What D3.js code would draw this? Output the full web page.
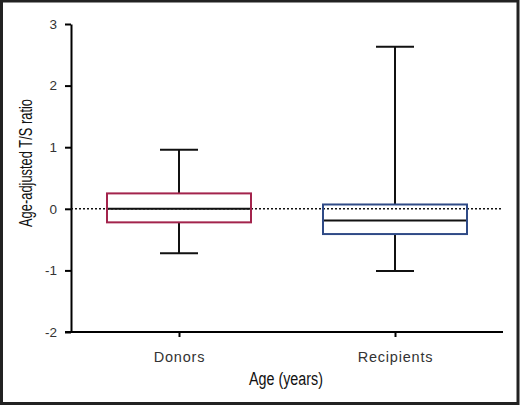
<!doctype html>
<html lang="en">
<head>
<meta charset="utf-8">
<title>Age-adjusted T/S ratio</title>
<script src="https://d3js.org/d3.v7.min.js"></script>
<style>
    html, body { margin: 0; padding: 0; background: #fff; }
    svg { display: block; }
</style>
</head>
<body>
<script>
    // data
    const groups = ["Donors", "Recipients"]
    const whiskerLow = [-0.72, -1.01]
    const boxLow = [-0.22, -0.41]
    const medians = [0.0, -0.19]
    const boxHigh = [0.25, 0.07]
    const whiskerHigh = [0.96, 2.63]
    const boxColors = ["#a3244c", "#2f4a86"]
    const yTicks = [-2, -1, 0, 1, 2, 3]

    const width = 520, height = 405
    const margin = { top: 24, right: 17, bottom: 73, left: 71 }

    const svg = d3.select("body").append("svg")
        .attr("width", width)
        .attr("height", height)

    // outer frame
    svg.append("rect")
        .attr("x", 1.5).attr("y", 1)
        .attr("width", width - 3.5).attr("height", height - 2.5)
        .attr("fill", "none")
        .attr("stroke", "#222")
        .attr("stroke-width", 3)

    let x = d3.scalePoint()
        .domain(groups)
        .range([margin.left, width - margin.right])
        .padding(0.5)

    let y = d3.scaleLinear()
        .domain([-2, 3])
        .range([height - margin.bottom, margin.top])

    const tickFont = "'Liberation Sans', Arial, sans-serif"

    // y axis
    const yAxis = svg.append("g")
        .attr("transform", `translate(${margin.left},0)`)
        .call(d3.axisLeft(y).tickValues(yTicks).tickFormat(d => String(d)).tickSize(6).tickPadding(8).tickSizeOuter(0))
    yAxis.selectAll("text")
        .attr("font-family", tickFont)
        .attr("font-size", 13.5)
        .attr("fill", "#333")
    yAxis.select(".domain").attr("stroke-width", 2)
    yAxis.selectAll(".tick line").attr("stroke-width", 2)

    // x axis
    const xAxis = svg.append("g")
        .attr("transform", `translate(0,${height - margin.bottom})`)
        .call(d3.axisBottom(x).tickSize(5).tickPadding(15).tickSizeOuter(0))
    xAxis.selectAll("text")
        .attr("font-family", tickFont)
        .attr("font-size", 14.5)
        .attr("letter-spacing", 0.8)
        .attr("fill", "#333")
    xAxis.select(".domain").attr("stroke-width", 2)
        .attr("d", `M${margin.left - 6},0H${width - margin.right}`)
    xAxis.selectAll(".tick line").attr("stroke-width", 2)

    // zero reference line
    svg.append("line")
        .attr("x1", margin.left).attr("x2", width - margin.right)
        .attr("y1", y(0)).attr("y2", y(0))
        .attr("stroke", "#111")
        .attr("stroke-width", 1.5)
        .attr("stroke-dasharray", "2,2")

    const boxWidth = 144
    const capWidth = 38

    const box = svg.append("g")
        .selectAll("g")
        .data(groups)
        .join("g")

    // whiskers
    box.append("line")
        .attr("x1", d => x(d)).attr("x2", d => x(d))
        .attr("y1", (d, i) => y(whiskerLow[i]))
        .attr("y2", (d, i) => y(boxLow[i]))
        .attr("stroke", "#111").attr("stroke-width", 2)
    box.append("line")
        .attr("x1", d => x(d)).attr("x2", d => x(d))
        .attr("y1", (d, i) => y(boxHigh[i]))
        .attr("y2", (d, i) => y(whiskerHigh[i]))
        .attr("stroke", "#111").attr("stroke-width", 2)

    // caps
    box.append("line")
        .attr("x1", d => x(d) - capWidth / 2).attr("x2", d => x(d) + capWidth / 2)
        .attr("y1", (d, i) => y(whiskerLow[i])).attr("y2", (d, i) => y(whiskerLow[i]))
        .attr("stroke", "#111").attr("stroke-width", 2)
    box.append("line")
        .attr("x1", d => x(d) - capWidth / 2).attr("x2", d => x(d) + capWidth / 2)
        .attr("y1", (d, i) => y(whiskerHigh[i])).attr("y2", (d, i) => y(whiskerHigh[i]))
        .attr("stroke", "#111").attr("stroke-width", 2)

    // boxes
    box.append("rect")
        .attr("x", d => x(d) - boxWidth / 2)
        .attr("width", boxWidth)
        .attr("y", (d, i) => y(boxHigh[i]))
        .attr("height", (d, i) => y(boxLow[i]) - y(boxHigh[i]))
        .attr("fill", "none")
        .attr("stroke", (d, i) => boxColors[i])
        .attr("stroke-width", 2)

    // medians
    box.append("line")
        .attr("x1", d => x(d) - boxWidth / 2 + 1).attr("x2", d => x(d) + boxWidth / 2 - 1)
        .attr("y1", (d, i) => y(medians[i])).attr("y2", (d, i) => y(medians[i]))
        .attr("stroke", "#111").attr("stroke-width", 2)

    // axis titles, squeezed to look like a condensed face
    svg.append("text")
        .attr("x", (margin.left + width - margin.right) / 2 - 1)
        .attr("y", 385)
        .attr("text-anchor", "middle")
        .attr("font-family", tickFont)
        .attr("font-size", 18)
        .attr("textLength", 74)
        .attr("lengthAdjust", "spacingAndGlyphs")
        .attr("fill", "#111")
        .text("Age (years)")

    svg.append("text")
        .attr("transform", "translate(32,163) rotate(-90)")
        .attr("text-anchor", "middle")
        .attr("font-family", tickFont)
        .attr("font-size", 18)
        .attr("textLength", 128)
        .attr("lengthAdjust", "spacingAndGlyphs")
        .attr("fill", "#111")
        .text("Age-adjusted T/S ratio")
</script>
</body>
</html>
